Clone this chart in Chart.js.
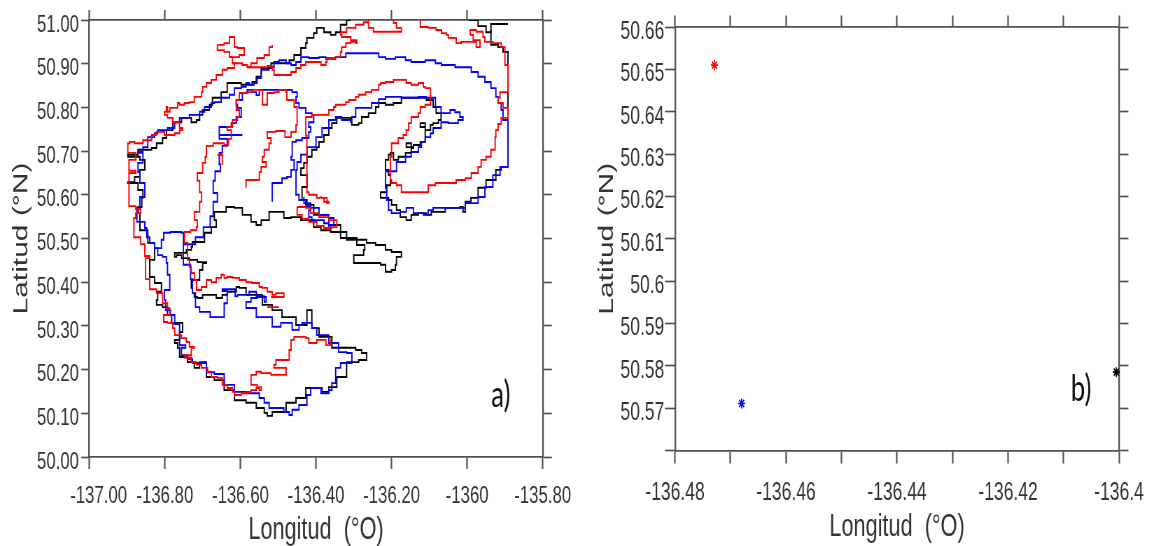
<!DOCTYPE html>
<html><head><meta charset="utf-8">
<script src="https://cdn.jsdelivr.net/npm/chart.js@4.4.1/dist/chart.umd.min.js"></script>
<style>
html,body{margin:0;padding:0;background:#fff;}
body{width:1154px;height:546px;position:relative;overflow:hidden;}
canvas{position:absolute;top:0;}
</style></head><body>
<canvas id="ca"></canvas>
<canvas id="cb"></canvas>
<script>
// ---------- panel a) tick values / labels ----------
const lonTicksA = [-137.0, -136.8, -136.6, -136.4, -136.2, -136.0, -135.8];
const lonLabelsA = ['-137.00', '-136.80', '-136.60', '-136.40', '-136.20', '-1360', '-135.80'];
const latTicksA = [50.0, 50.1, 50.2, 50.3, 50.4, 50.5, 50.6, 50.7, 50.8, 50.9, 51.0];
const latLabelsA = ['50.00', '50.10', '50.20', '50.30', '50.40', '50.50', '50.60', '50.70', '50.80', '50.90', '51.00'];

// ---------- panel a) contour lines [lon, lat] ----------
const blackMain = [[-136.308,51.000],[-136.319,50.989],[-136.335,50.972],[-136.348,50.966],[-136.361,50.972],[-136.379,50.982],[-136.398,50.970],[-136.406,50.959],[-136.424,50.947],[-136.427,50.936],[-136.440,50.920],[-136.458,50.908],[-136.471,50.901],[-136.498,50.901],[-136.519,50.890],[-136.545,50.870],[-136.558,50.858],[-136.569,50.852],[-136.590,50.852],[-136.598,50.856],[-136.624,50.856],[-136.635,50.847],[-136.635,50.835],[-136.651,50.822],[-136.674,50.806],[-136.682,50.794],[-136.700,50.783],[-136.708,50.771],[-136.716,50.766],[-136.730,50.776],[-136.743,50.776],[-136.756,50.766],[-136.779,50.748],[-136.796,50.730],[-136.806,50.718],[-136.822,50.707],[-136.835,50.703],[-136.858,50.703],[-136.871,50.692],[-136.898,50.687],[-136.866,50.680],[-136.853,50.668],[-136.853,50.657],[-136.866,50.641],[-136.880,50.629],[-136.898,50.627],[-136.871,50.611],[-136.858,50.593],[-136.861,50.572],[-136.871,50.558],[-136.866,50.531],[-136.866,50.519],[-136.845,50.490],[-136.827,50.467],[-136.827,50.451],[-136.840,50.440],[-136.840,50.412],[-136.827,50.398],[-136.809,50.378],[-136.819,50.359],[-136.822,50.348],[-136.806,50.343],[-136.793,50.325],[-136.782,50.307],[-136.753,50.286],[-136.761,50.268],[-136.774,50.261],[-136.766,50.250],[-136.761,50.229],[-136.740,50.217],[-136.722,50.204],[-136.708,50.217],[-136.700,50.217],[-136.690,50.211],[-136.690,50.183],[-136.669,50.176],[-136.643,50.153],[-136.616,50.130],[-136.585,50.124],[-136.558,50.112],[-136.537,50.101],[-136.529,50.094],[-136.516,50.103],[-136.493,50.103],[-136.479,50.124],[-136.453,50.135],[-136.427,50.158],[-136.400,50.158],[-136.384,50.149],[-136.366,50.160],[-136.345,50.183],[-136.319,50.217],[-136.287,50.222],[-136.266,50.238],[-136.279,50.245],[-136.295,50.250],[-136.319,50.250],[-136.358,50.275],[-136.392,50.295],[-136.411,50.298],[-136.411,50.336],[-136.424,50.336],[-136.424,50.302],[-136.440,50.302],[-136.453,50.320],[-136.490,50.336],[-136.516,50.348],[-136.532,50.348],[-136.542,50.359],[-136.542,50.371],[-136.569,50.371],[-136.585,50.387],[-136.603,50.389],[-136.611,50.378],[-136.635,50.371],[-136.648,50.364],[-136.664,50.371],[-136.700,50.364],[-136.714,50.366],[-136.722,50.375],[-136.727,50.387],[-136.730,50.405],[-136.708,50.428],[-136.700,50.444],[-136.690,50.446],[-136.714,50.451],[-136.735,50.455],[-136.756,50.462],[-136.769,50.458],[-136.774,50.467],[-136.743,50.474],[-136.730,50.481],[-136.727,50.492],[-136.695,50.513],[-136.677,50.526],[-136.664,50.542],[-136.669,50.561],[-136.638,50.572],[-136.616,50.570],[-136.595,50.554],[-136.572,50.538],[-136.558,50.531],[-136.545,50.542],[-136.524,50.561],[-136.485,50.547],[-136.466,50.549],[-136.440,50.542],[-136.406,50.526],[-136.387,50.519],[-136.361,50.515],[-136.335,50.501],[-136.292,50.485],[-136.271,50.474],[-136.274,50.462],[-136.300,50.444],[-136.266,50.444],[-136.229,50.440],[-136.216,50.424],[-136.200,50.428],[-136.190,50.440],[-136.187,50.458],[-136.174,50.469],[-136.200,50.474],[-136.216,50.485],[-136.242,50.490],[-136.266,50.497],[-136.292,50.497],[-136.319,50.515],[-136.335,50.531],[-136.366,50.554],[-136.406,50.577],[-136.424,50.588],[-136.437,50.600],[-136.437,50.618],[-136.424,50.627],[-136.424,50.645],[-136.440,50.661],[-136.432,50.673],[-136.424,50.687],[-136.411,50.703],[-136.398,50.709],[-136.392,50.721],[-136.379,50.737],[-136.366,50.753],[-136.358,50.764],[-136.345,50.776],[-136.327,50.776],[-136.308,50.766],[-136.305,50.760],[-136.287,50.764],[-136.279,50.778],[-136.261,50.787],[-136.242,50.801],[-136.234,50.810],[-136.216,50.806],[-136.195,50.810],[-136.174,50.822],[-136.129,50.822],[-136.108,50.817],[-136.090,50.801],[-136.082,50.787],[-136.069,50.771],[-136.076,50.764],[-136.090,50.760],[-136.097,50.748],[-136.111,50.755],[-136.124,50.764],[-136.111,50.748],[-136.111,50.721],[-136.124,50.714],[-136.142,50.709],[-136.148,50.718],[-136.161,50.718],[-136.161,50.709],[-136.142,50.707],[-136.148,50.696],[-136.163,50.687],[-136.182,50.680],[-136.195,50.696],[-136.203,50.692],[-136.208,50.680],[-136.216,50.675],[-136.216,50.657],[-136.208,50.645],[-136.203,50.622],[-136.213,50.606],[-136.229,50.604],[-136.229,50.593],[-136.208,50.588],[-136.200,50.577],[-136.187,50.565],[-136.177,50.549],[-136.161,50.542],[-136.148,50.554],[-136.129,50.558],[-136.108,50.554],[-136.095,50.561],[-136.058,50.570],[-136.019,50.572],[-136.011,50.561],[-136.005,50.584],[-135.990,50.593],[-135.971,50.616],[-135.950,50.634],[-135.924,50.657],[-135.910,50.664],[-135.892,50.668],[-135.892,50.927],[-135.905,50.938],[-135.918,50.943],[-135.937,50.947],[-135.937,50.991],[-135.892,50.991]];
const blackTop = [[-135.995,51.000],[-135.971,50.986],[-135.950,50.972],[-135.937,50.977]];

const blueOuter = [[-135.892,50.664],[-135.892,50.771],[-135.905,50.794],[-135.910,50.810],[-135.918,50.824],[-135.924,50.844],[-135.937,50.858],[-135.953,50.870],[-135.971,50.881],[-135.989,50.892],[-136.032,50.897],[-136.068,50.901],[-136.084,50.908],[-136.111,50.904],[-136.148,50.908],[-136.163,50.915],[-136.190,50.911],[-136.216,50.915],[-136.234,50.924],[-136.287,50.924],[-136.321,50.915],[-136.348,50.911],[-136.374,50.915],[-136.392,50.913],[-136.419,50.915],[-136.440,50.904],[-136.453,50.897],[-136.466,50.901],[-136.479,50.908],[-136.498,50.904],[-136.511,50.892],[-136.524,50.886],[-136.545,50.867],[-136.556,50.856],[-136.564,50.852],[-136.577,50.856],[-136.585,50.847],[-136.598,50.844],[-136.616,50.829],[-136.629,50.822],[-136.651,50.812],[-136.669,50.810],[-136.677,50.801],[-136.695,50.790],[-136.708,50.783],[-136.735,50.776],[-136.748,50.776],[-136.761,50.766],[-136.774,50.753],[-136.793,50.748],[-136.819,50.741],[-136.827,50.732],[-136.845,50.709],[-136.858,50.698],[-136.871,50.696],[-136.858,50.673],[-136.871,50.652],[-136.866,50.627],[-136.853,50.595],[-136.866,50.570],[-136.874,50.538],[-136.853,50.524],[-136.848,50.503],[-136.840,50.490],[-136.827,50.478],[-136.819,50.462],[-136.806,50.458],[-136.796,50.444],[-136.793,50.417],[-136.787,50.382],[-136.801,50.359],[-136.798,50.336],[-136.785,50.325],[-136.774,50.304],[-136.761,50.281],[-136.761,50.256],[-136.745,50.250],[-136.756,50.233],[-136.740,50.224],[-136.727,50.215],[-136.690,50.194],[-136.669,50.190],[-136.643,50.165],[-136.616,50.149],[-136.585,50.146],[-136.550,50.135],[-136.537,50.124],[-136.524,50.112],[-136.503,50.112],[-136.485,50.103],[-136.471,50.096],[-136.463,50.108],[-136.445,50.119],[-136.424,50.142],[-136.414,50.158],[-136.387,50.146],[-136.366,50.153],[-136.358,50.169],[-136.348,50.204],[-136.335,50.215],[-136.305,50.227],[-136.305,50.238],[-136.319,50.240],[-136.340,50.261],[-136.366,50.279],[-136.398,50.295],[-136.411,50.307],[-136.437,50.302],[-136.445,50.291],[-136.463,50.307],[-136.493,50.298],[-136.516,50.309],[-136.516,50.320],[-136.545,50.320],[-136.558,50.341],[-136.585,50.355],[-136.572,50.364],[-136.556,50.366],[-136.532,50.355],[-136.537,50.368],[-136.558,50.378],[-136.577,50.371],[-136.608,50.368],[-136.614,50.384],[-136.648,50.380],[-136.635,50.352],[-136.643,50.320],[-136.661,50.320],[-136.680,50.332],[-136.708,50.343],[-136.719,50.375],[-136.727,50.407],[-136.732,50.440],[-136.751,50.487],[-136.719,50.503],[-136.698,50.526],[-136.680,50.551],[-136.672,50.584],[-136.661,50.604],[-136.672,50.632],[-136.667,50.654],[-136.653,50.670],[-136.656,50.696],[-136.648,50.712],[-136.635,50.728],[-136.656,50.737],[-136.595,50.737],[-136.656,50.737],[-136.656,50.755],[-136.624,50.764],[-136.611,50.778],[-136.598,50.799],[-136.608,50.806],[-136.611,50.817],[-136.595,50.833],[-136.582,50.840],[-136.569,50.835],[-136.558,50.828],[-136.550,50.840],[-136.495,50.840],[-136.463,50.835],[-136.450,50.824],[-136.453,50.810],[-136.445,50.799],[-136.427,50.787],[-136.411,50.783],[-136.406,50.766],[-136.419,50.755],[-136.414,50.744],[-136.419,50.730],[-136.437,50.725],[-136.453,50.721],[-136.463,50.709],[-136.463,50.687],[-136.466,50.680],[-136.458,50.673],[-136.458,50.657],[-136.466,50.641],[-136.477,50.638],[-136.490,50.627],[-136.498,50.627],[-136.516,50.618],[-136.516,50.584]];
const blueInner = [[-135.892,50.664],[-135.913,50.645],[-135.932,50.618],[-135.953,50.595],[-135.971,50.581],[-136.005,50.570],[-136.055,50.570],[-136.090,50.565],[-136.103,50.554],[-136.116,50.558],[-136.142,50.570],[-136.161,50.561],[-136.177,50.558],[-136.200,50.565],[-136.208,50.588],[-136.213,50.616],[-136.216,50.654],[-136.187,50.675],[-136.163,50.687],[-136.148,50.698],[-136.129,50.709],[-136.121,50.721],[-136.111,50.732],[-136.097,50.741],[-136.090,50.753],[-136.069,50.766],[-136.050,50.764],[-136.024,50.771],[-136.011,50.778],[-136.019,50.789],[-136.032,50.794],[-136.045,50.787],[-136.069,50.801],[-136.084,50.822],[-136.108,50.824],[-136.129,50.822],[-136.174,50.824],[-136.216,50.819],[-136.234,50.810],[-136.253,50.799],[-136.274,50.799],[-136.295,50.778],[-136.305,50.771],[-136.332,50.778],[-136.348,50.771],[-136.366,50.753],[-136.384,50.732],[-136.400,50.709],[-136.424,50.692],[-136.440,50.675],[-136.450,50.657],[-136.453,50.627],[-136.453,50.600],[-136.445,50.588],[-136.427,50.572],[-136.414,50.565],[-136.419,50.549],[-136.411,50.542],[-136.392,50.542],[-136.379,50.535],[-136.366,50.524],[-136.361,50.531],[-136.353,50.535],[-136.353,50.547],[-136.366,50.554],[-136.392,50.570],[-136.414,50.581],[-136.432,50.595]];
const blueNeck = [[-136.827,50.478],[-136.809,50.497],[-136.803,50.513],[-136.785,50.515],[-136.756,50.513],[-136.751,50.487]];

const redCross = [[-136.661,50.943],[-136.661,50.931],[-136.643,50.927],[-136.629,50.915],[-136.616,50.915],[-136.603,50.920],[-136.590,50.924],[-136.590,50.936],[-136.608,50.938],[-136.616,50.943],[-136.616,50.961],[-136.629,50.961],[-136.629,50.947],[-136.643,50.943],[-136.661,50.943]];
const redOuter = [[-136.629,50.915],[-136.621,50.901],[-136.616,50.890],[-136.635,50.886],[-136.648,50.874],[-136.664,50.863],[-136.677,50.856],[-136.690,50.847],[-136.700,50.835],[-136.703,50.824],[-136.722,50.812],[-136.735,50.810],[-136.748,50.806],[-136.761,50.810],[-136.766,50.799],[-136.787,50.790],[-136.793,50.801],[-136.796,50.790],[-136.801,50.783],[-136.793,50.776],[-136.779,50.766],[-136.761,50.753],[-136.753,50.748],[-136.761,50.741],[-136.774,50.737],[-136.801,50.744],[-136.822,50.737],[-136.835,50.725],[-136.858,50.718],[-136.880,50.721],[-136.893,50.718],[-136.898,50.709],[-136.898,50.696],[-136.882,50.696],[-136.877,50.680],[-136.895,50.680],[-136.895,50.655],[-136.877,50.650],[-136.895,50.632],[-136.895,50.574],[-136.877,50.567],[-136.864,50.558],[-136.877,50.547],[-136.882,50.531],[-136.882,50.503],[-136.864,50.487],[-136.853,50.460],[-136.840,50.455],[-136.851,50.440],[-136.851,50.407],[-136.840,50.384],[-136.822,50.375],[-136.806,50.352],[-136.793,50.341],[-136.787,50.325],[-136.803,50.309],[-136.793,50.307],[-136.779,50.295],[-136.774,50.279],[-136.756,50.272],[-136.743,50.263],[-136.735,50.252],[-136.722,50.250],[-136.730,50.233],[-136.743,50.233],[-136.748,50.227],[-136.730,50.217],[-136.716,50.211],[-136.703,50.204],[-136.687,50.195],[-136.677,50.183],[-136.661,50.181],[-136.648,50.165],[-136.635,50.158],[-136.621,50.149],[-136.616,50.142],[-136.598,50.146],[-136.582,50.149],[-136.572,50.153],[-136.558,50.158],[-136.550,50.153],[-136.545,50.160],[-136.556,50.165],[-136.569,50.165],[-136.572,50.176],[-136.572,50.188],[-136.558,50.195],[-136.545,50.192],[-136.529,50.192],[-136.519,50.188],[-136.479,50.188],[-136.479,50.204],[-136.503,50.204],[-136.511,50.211],[-136.506,50.222],[-136.477,50.222],[-136.471,50.245],[-136.466,50.268],[-136.458,50.275],[-136.440,50.275],[-136.427,50.272],[-136.419,50.261],[-136.403,50.261],[-136.398,50.268],[-136.379,50.268],[-136.374,50.256],[-136.361,50.256],[-136.361,50.272]];
const redUpper = [[-136.621,50.901],[-136.611,50.901],[-136.595,50.897],[-136.582,50.892],[-136.556,50.892],[-136.529,50.895],[-136.516,50.886],[-136.511,50.874],[-136.485,50.874],[-136.466,50.881],[-136.453,50.890],[-136.440,50.897],[-136.427,50.904],[-136.406,50.904],[-136.387,50.897],[-136.374,50.904],[-136.371,50.913],[-136.348,50.915],[-136.335,50.927],[-136.332,50.938],[-136.321,50.947],[-136.308,50.950],[-136.295,50.947],[-136.292,50.954],[-136.308,50.961],[-136.332,50.966],[-136.335,50.972],[-136.319,50.982],[-136.305,50.982],[-136.295,50.989],[-136.274,50.995],[-136.261,51.000],[-136.261,50.982],[-136.248,50.973],[-136.190,50.973],[-136.174,50.982],[-136.187,50.993],[-136.195,51.000]];
const redHook = [[-136.582,50.892],[-136.572,50.901],[-136.556,50.913],[-136.537,50.920],[-136.524,50.927],[-136.524,50.938],[-136.516,50.943]];
const redRight = [[-136.124,51.000],[-136.124,50.984],[-136.103,50.982],[-136.082,50.977],[-136.068,50.970],[-136.055,50.966],[-136.050,50.959],[-136.037,50.959],[-136.029,50.947],[-136.016,50.950],[-135.992,50.950],[-135.976,50.938],[-135.966,50.943],[-135.966,50.954],[-135.984,50.966],[-135.992,50.977],[-135.976,50.973],[-135.958,50.961],[-135.953,50.950],[-135.932,50.947],[-135.910,50.938],[-135.900,50.936],[-135.900,50.897],[-135.892,50.890],[-135.892,50.835],[-135.913,50.822],[-135.918,50.810],[-135.905,50.799],[-135.892,50.787],[-135.892,50.776],[-135.910,50.762],[-135.918,50.748],[-135.924,50.732],[-135.926,50.703],[-135.937,50.687],[-135.950,50.680],[-135.963,50.675],[-135.963,50.664],[-135.971,50.650],[-135.989,50.638],[-136.005,50.634],[-136.029,50.627],[-136.084,50.622],[-136.103,50.606],[-136.161,50.606],[-136.174,50.622],[-136.187,50.627],[-136.200,50.634],[-136.203,50.650],[-136.203,50.687],[-136.200,50.718],[-136.182,50.730],[-136.169,50.737],[-136.161,50.748],[-136.155,50.764],[-136.148,50.778],[-136.129,50.787],[-136.124,50.801],[-136.111,50.806],[-136.097,50.817],[-136.097,50.844],[-136.111,50.847],[-136.116,50.856],[-136.129,50.852],[-136.148,50.856],[-136.161,50.863],[-136.182,50.863],[-136.195,50.858],[-136.216,50.856],[-136.229,50.852],[-136.234,50.840],[-136.253,50.835],[-136.269,50.829],[-136.287,50.824],[-136.295,50.817],[-136.313,50.812],[-136.321,50.806],[-136.348,50.801],[-136.353,50.794],[-136.366,50.783],[-136.392,50.783],[-136.411,50.778],[-136.427,50.771],[-136.427,50.735],[-136.424,50.606],[-136.419,50.600],[-136.398,50.593],[-136.379,50.584],[-136.366,50.581],[-136.371,50.593],[-136.387,50.597]];
const redMiddle = [[-136.519,50.366],[-136.493,50.366],[-136.485,50.375],[-136.506,50.371],[-136.516,50.378],[-136.529,50.387],[-136.542,50.389],[-136.550,50.398],[-136.569,50.400],[-136.585,50.405],[-136.603,50.410],[-136.621,50.412],[-136.635,50.410],[-136.643,50.417],[-136.651,50.410],[-136.664,50.400],[-136.677,50.405],[-136.690,50.389],[-136.703,50.382],[-136.716,50.387],[-136.716,50.405],[-136.722,50.421],[-136.730,50.435],[-136.735,50.451],[-136.740,50.467],[-136.740,50.490],[-136.748,50.501],[-136.748,50.515],[-136.732,50.519],[-136.716,50.526],[-136.714,50.542],[-136.722,50.561],[-136.708,50.584],[-136.703,50.606],[-136.708,50.632],[-136.714,50.650],[-136.700,50.673],[-136.693,50.687],[-136.690,50.712],[-136.672,50.718],[-136.643,50.714],[-136.632,50.728],[-136.624,50.748],[-136.635,50.755],[-136.621,50.771],[-136.608,50.778],[-136.603,50.794],[-136.611,50.803],[-136.611,50.817],[-136.603,50.833],[-136.585,50.835],[-136.569,50.840],[-136.545,50.840],[-136.542,50.828],[-136.542,50.806],[-136.529,50.806],[-136.529,50.833],[-136.511,50.835],[-136.498,50.840],[-136.479,50.835],[-136.477,50.817],[-136.458,50.801],[-136.450,50.787],[-136.450,50.760],[-136.453,50.744],[-136.466,50.732],[-136.482,50.746],[-136.506,50.744],[-136.529,50.744],[-136.529,50.730],[-136.519,50.718],[-136.524,50.703],[-136.537,50.687],[-136.542,50.675],[-136.532,50.664],[-136.545,50.652],[-136.550,50.634],[-136.585,50.632],[-136.585,50.616]];
const redSpike = [[-136.661,50.691],[-136.648,50.687],[-136.648,50.668]];
const redTongue = [[-136.450,50.572],[-136.427,50.570],[-136.414,50.558],[-136.392,50.549],[-136.366,50.542],[-136.345,50.526],[-136.358,50.524],[-136.379,50.529],[-136.398,50.538],[-136.419,50.545],[-136.437,50.554],[-136.450,50.561],[-136.450,50.572]];
const redBar = [[-136.529,50.343],[-136.498,50.343]];

// ---------- panel b) ----------
const lonTicksB = [-136.48, -136.47, -136.46, -136.45, -136.44, -136.43, -136.42, -136.41, -136.40];
const lonLabelsB = ['-136.48', '', '-136.46', '', '-136.44', '', '-136.42', '', '-136.4'];
const latTicksB = [50.56, 50.57, 50.58, 50.59, 50.60, 50.61, 50.62, 50.63, 50.64, 50.65, 50.66];
const latLabelsB = ['', '50.57', '50.58', '50.59', '50.6', '50.61', '50.62', '50.63', '50.64', '50.65', '50.66'];
const redPoint = [[-136.4729, 50.6510]];
const bluePoint = [[-136.4680, 50.5711]];
const blackPoint = [[-136.4005, 50.5785]];

// ---------- drawing ----------
const S = 0.7;            // horizontal squeeze of the original figure
const FONT = "'Liberation Sans', Arial, sans-serif";
const TXT = '#333';
const AX = '#505050';

function setupCanvas(id, w, leftPx) {
  const c = document.getElementById(id);
  c.width = w; c.height = 546;
  c.style.left = leftPx + 'px';
  c.style.width = (w * S) + 'px';
  c.style.height = '546px';
  return c;
}
const pts = arr => arr.map(p => ({x: p[0], y: p[1]}));
const lineDs = (arr, color) => ({data: pts(arr), showLine: true, borderColor: color, backgroundColor: color,
  borderWidth: 1.9, pointRadius: 0, fill: false, stepped: true, xAxisID: 'x', yAxisID: 'y'});
const starDs = (arr, color) => ({data: pts(arr), showLine: false, pointStyle: 'star', pointRadius: 5,
  borderColor: color, backgroundColor: color, pointBorderWidth: 1.7, clip: false, xAxisID: 'x', yAxisID: 'y'});

const panelLabel = {
  id: 'panelLabel',
  afterDraw(chart, args, o) {
    const {ctx, chartArea} = chart;
    ctx.save();
    ctx.font = o.size + "px Lato, 'Open Sans', sans-serif";
    ctx.fillStyle = '#111';
    ctx.textAlign = 'center';
    ctx.textBaseline = 'middle';
    ctx.fillText(o.text, chartArea.right - o.dx, chartArea.bottom - o.dy);
    ctx.restore();
  }
};

function makeScales(cfg) {
  const setTicks = vals => s => { s.ticks = vals.map(v => ({value: v})); };
  return {
    x: {type: 'linear', position: 'bottom', min: cfg.xmin, max: cfg.xmax,
      afterBuildTicks: setTicks(cfg.xt), afterFit: s => { s.height = cfg.bottomH; },
      ticks: {autoSkip: false, maxRotation: 0, minRotation: 0, padding: cfg.xPad, color: TXT,
        font: {family: FONT, size: cfg.tickSize}, callback: (v, i) => (i === 0 ? cfg.firstPad : '') + cfg.xl[i]},
      grid: {drawOnChartArea: false, drawTicks: true, tickLength: cfg.bTick, tickColor: AX, tickWidth: 2.2},
      border: {display: true, color: AX, width: 1.7},
      title: {display: true, text: 'Longitud  (°O)', color: TXT, font: {family: FONT, size: 31, lineHeight: 1},
        padding: {top: 0, bottom: cfg.xTitlePad}}},
    x2: {type: 'linear', position: 'top', min: cfg.xmin, max: cfg.xmax,
      afterBuildTicks: setTicks(cfg.xt), afterFit: s => { s.height = cfg.topH; },
      ticks: {display: false, autoSkip: false},
      grid: {drawOnChartArea: false, drawTicks: true, tickLength: cfg.tTick, tickColor: AX, tickWidth: 2.2},
      border: {display: true, color: AX, width: 1.7}},
    y: {type: 'linear', position: 'left', min: cfg.ymin, max: cfg.ymax,
      afterBuildTicks: setTicks(cfg.yt), afterFit: s => { s.width = cfg.leftW; },
      ticks: {autoSkip: false, padding: cfg.yPad, labelOffset: 5, color: TXT,
        font: {family: FONT, size: cfg.tickSize}, callback: (v, i) => cfg.yl[i]},
      grid: {drawOnChartArea: false, drawTicks: true, tickLength: cfg.lTick, tickColor: AX, tickWidth: 1.7},
      border: {display: true, color: AX, width: 2.3},
      title: {display: true, text: 'Latitud (°N)', color: TXT, font: {family: FONT, size: 30, lineHeight: 1.2},
        padding: {top: cfg.yTitlePad, bottom: 0}}},
    y2: {type: 'linear', position: 'right', min: cfg.ymin, max: cfg.ymax,
      afterBuildTicks: setTicks(cfg.yt), afterFit: s => { s.width = cfg.rightW; },
      ticks: {display: false, autoSkip: false},
      grid: {drawOnChartArea: false, drawTicks: true, tickLength: cfg.rTick, tickColor: AX, tickWidth: 1.7},
      border: {display: true, color: AX, width: 2.3}}
  };
}

const baseOpts = {responsive: false, animation: false, devicePixelRatio: 1, events: [],
  layout: {padding: 0}, plugins: {legend: {display: false}, tooltip: {enabled: false}}};

// Panel a)
const WA = 829;
new Chart(setupCanvas('ca', WA, 0), {
  type: 'scatter',
  data: {datasets: [
    lineDs(redCross, '#ff0000'), lineDs(redOuter, '#ff0000'), lineDs(redUpper, '#ff0000'),
    lineDs(redHook, '#ff0000'), lineDs(redRight, '#ff0000'), lineDs(redMiddle, '#ff0000'),
    lineDs(redSpike, '#ff0000'), lineDs(redTongue, '#ff0000'), lineDs(redBar, '#ff0000'),
    lineDs(blueOuter, '#0000ff'), lineDs(blueInner, '#0000ff'), lineDs(blueNeck, '#0000ff'),
    lineDs(blackMain, '#000000'), lineDs(blackTop, '#000000')
  ]},
  options: Object.assign({}, baseOpts, {
    scales: makeScales({xmin: -137, xmax: -135.8, ymin: 50, ymax: 51,
      xt: lonTicksA, xl: lonLabelsA, yt: latTicksA, yl: latLabelsA, firstPad: '    ',
      bottomH: 89, topH: 20, leftW: 127.6, rightW: WA - 778.6,
      tickSize: 24, xPad: 12.6, yPad: 3.3, bTick: 12, tTick: 10, lTick: 11.4, rTick: 13,
      xTitlePad: 0, yTitlePad: 12.6}),
    plugins: Object.assign({}, baseOpts.plugins, {panelLabel: {text: 'a)', size: 37, dx: 60, dy: 62}})
  }),
  plugins: [panelLabel]
});

// Panel b)
const WB = 820;
new Chart(setupCanvas('cb', WB, 580), {
  type: 'scatter',
  data: {datasets: [starDs(redPoint, '#ff0000'), starDs(bluePoint, '#0000ff'), starDs(blackPoint, '#000000')]},
  options: Object.assign({}, baseOpts, {
    scales: makeScales({xmin: -136.48, xmax: -136.40, ymin: 50.56, ymax: 50.66,
      xt: lonTicksB, xl: lonLabelsB, yt: latTicksB, yl: latLabelsB, firstPad: '',
      bottomH: 95.5, topH: 27, leftW: 135.7, rightW: WB - 775.7,
      tickSize: 25, xPad: 14.5, yPad: 1, bTick: 13, tTick: 11.5, lTick: 14.3, rTick: 13.4,
      xTitlePad: 3, yTitlePad: 20.6}),
    plugins: Object.assign({}, baseOpts.plugins, {panelLabel: {text: 'b)', size: 37, dx: 54.3, dy: 61.5}})
  }),
  plugins: [panelLabel]
});
</script>
</body></html>
